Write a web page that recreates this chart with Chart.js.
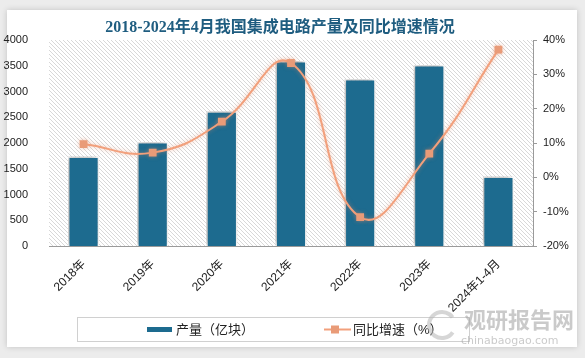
<!DOCTYPE html>
<html>
<head>
<meta charset="utf-8">
<script src="https://cdn.jsdelivr.net/npm/chart.js@4.4.1/dist/chart.umd.min.js"></script>
<style>
  html, body { margin: 0; padding: 0; background: #ececec; }
  #wrap { position: relative; width: 585px; height: 358px; overflow: hidden; }
  #card { position: absolute; left: 7px; top: 10px; width: 570px; height: 337px; background: #fff; box-shadow: 0 0 6px rgba(0,0,0,0.18); }
  #c { position: absolute; left: 0; top: 0; }
</style>
</head>
<body>
<div id="wrap">
  <div id="card"></div>
  <canvas id="c" width="585" height="358"></canvas>
</div>
<script>
// 数据
const years = ["2018年", "2019年", "2020年", "2021年", "2022年", "2023年", "2024年1-4月"];
const output = [1739.5, 2018.2, 2614.7, 3594.3, 3241.9, 3514.4, 1349.7]; // 产量（亿块）
const growth = [9.7, 7.2, 16.2, 33.3, -11.6, 6.9, 37.2]; // 同比增速（%）
const leftTicks = [0, 500, 1000, 1500, 2000, 2500, 3000, 3500, 4000];
const rightTicks = [-20, -10, 0, 10, 20, 30, 40];

const barColor = "#1d6b8f";
const lineColor = "#f2a07c";
const markColor = "#e99b78";
const cjk = '"Liberation Sans", "Noto Sans CJK SC", sans-serif';

// 斜线底纹
const hatch = {
  id: "hatch",
  beforeDatasetsDraw(chart) {
    const a = chart.chartArea, ctx = chart.ctx;
    ctx.save();
    ctx.beginPath();
    ctx.rect(a.left, a.top, a.right - a.left, a.bottom - a.top);
    ctx.clip();
    ctx.strokeStyle = "#d8d8d8";
    ctx.lineWidth = 1;
    const h = a.bottom - a.top;
    ctx.beginPath();
    for (let k = -h; k < a.right - a.left; k += 4) {
      ctx.moveTo(a.left + k, a.top);
      ctx.lineTo(a.left + k + h, a.bottom);
    }
    ctx.stroke();
    ctx.restore();
  }
};

// 阴影
const shadow = {
  id: "shadow",
  beforeDatasetDraw(chart, args) {
    const ctx = chart.ctx;
    ctx.save();
    if (args.index === 0) {
      ctx.shadowColor = "rgba(0,0,0,0.35)";
      ctx.shadowBlur = 6;
      ctx.shadowOffsetX = -2;
      ctx.shadowOffsetY = -1;
    } else {
      ctx.shadowColor = "rgba(240,140,100,0.5)";
      ctx.shadowBlur = 4;
    }
  },
  afterDatasetDraw(chart) {
    chart.ctx.restore();
  }
};

// 标题、图例、水印
const extras = {
  id: "extras",
  afterDraw(chart) {
    const ctx = chart.ctx;
    ctx.save();
    ctx.fillStyle = "#1f5d80";
    ctx.font = 'bold 16px "Liberation Serif", "Noto Sans CJK SC", serif';
    ctx.textAlign = "center";
    ctx.textBaseline = "middle";
    ctx.fillText("2018-2024年4月我国集成电路产量及同比增速情况", 280, 28);

    // 图例框
    ctx.strokeStyle = "#d0d0d0";
    ctx.lineWidth = 1;
    ctx.strokeRect(77.5, 317.5, 392, 24);
    ctx.fillStyle = barColor;
    ctx.fillRect(147, 327, 25, 5);
    ctx.fillStyle = "#222";
    ctx.font = "13px " + cjk;
    ctx.textAlign = "left";
    ctx.fillText("产量（亿块）", 176, 330);
    ctx.strokeStyle = lineColor;
    ctx.lineWidth = 2;
    ctx.beginPath();
    ctx.moveTo(324, 329.5);
    ctx.lineTo(351, 329.5);
    ctx.stroke();
    ctx.fillStyle = markColor;
    ctx.fillRect(331, 325.5, 8, 8);
    ctx.fillStyle = "#222";
    ctx.fillText("同比增速（%）", 353, 330);

    // 水印
    ctx.globalAlpha = 0.55;
    ctx.strokeStyle = "#b5b5b5";
    ctx.lineWidth = 4;
    ctx.beginPath();
    ctx.arc(442, 325, 13, 0.6, Math.PI * 1.8);
    ctx.stroke();
    ctx.fillStyle = "#9e9e9e";
    ctx.font = 'bold 22px "Noto Sans CJK SC", sans-serif';
    ctx.fillText("观研报告网", 464, 320);
    ctx.font = '11px "DejaVu Sans", sans-serif';
    ctx.fillText("chinabaogao.com", 461, 341);
    ctx.restore();
  }
};

const canvas = document.getElementById("c");

new Chart(canvas, {
  type: "bar",
  data: {
    labels: years,
    datasets: [
      {
        label: "产量（亿块）",
        data: output,
        yAxisID: "y",
        backgroundColor: barColor,
        borderColor: "#ffffff",
        borderWidth: 1.5,
        barPercentage: 0.45,
        categoryPercentage: 1,
        order: 1,
      },
      {
        type: "line",
        label: "同比增速（%）",
        data: growth,
        yAxisID: "y1",
        borderColor: lineColor,
        borderWidth: 2,
        backgroundColor: markColor,
        pointStyle: "rect",
        pointRadius: 5.5,
        pointBorderWidth: 0,
        tension: 0.45,
        order: 0,
      },
    ],
  },
  options: {
    responsive: false,
    animation: false,
    layout: { padding: { top: 40, left: 0, right: 0, bottom: 0 } },
    plugins: {
      legend: { display: false },
      title: { display: false },
      tooltip: { enabled: false },
    },
    scales: {
      x: {
        grid: { display: false },
        border: { display: true, color: "#9a9a9a" },
        ticks: {
          color: "#222",
          font: { size: 12, family: cjk },
          minRotation: 45,
          maxRotation: 45,
          padding: 3,
        },
        afterFit(scale) { scale.height = 112; },
      },
      y: {
        position: "left",
        min: 0,
        max: 4000,
        afterBuildTicks(scale) { scale.ticks = leftTicks.map(v => ({ value: v })); },
        grid: { display: false },
        border: { display: false },
        ticks: {
          color: "#222",
          font: { size: 11, family: cjk },
          padding: 13,
          callback: v => String(v),
        },
        afterFit(scale) { scale.width = 49; },
      },
      y1: {
        position: "right",
        min: -20,
        max: 40,
        afterBuildTicks(scale) { scale.ticks = rightTicks.map(v => ({ value: v })); },
        grid: { drawOnChartArea: false, color: "#9a9a9a", tickLength: 4 },
        border: { display: true, color: "#9a9a9a" },
        ticks: {
          color: "#222",
          font: { size: 11, family: cjk },
          padding: 6,
          callback: v => v + "%",
        },
        afterFit(scale) { scale.width = 52; },
      },
    },
  },
  plugins: [hatch, shadow, extras],
});
</script>
</body>
</html>
